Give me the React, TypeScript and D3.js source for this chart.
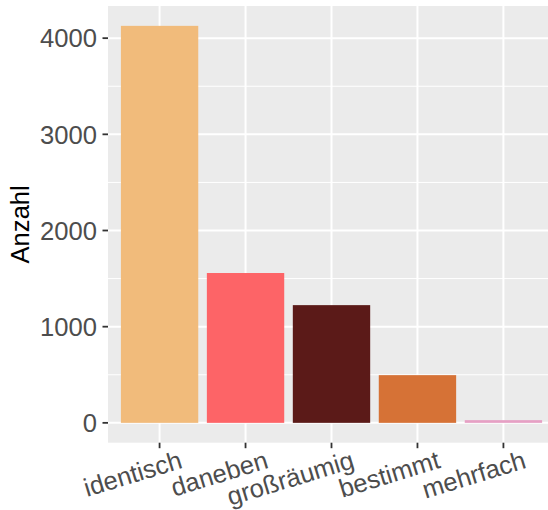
import React from "react";
import * as d3 from "d3";

const categories = ["identisch", "daneben", "großräumig", "bestimmt", "mehrfach"];
const counts = [4128, 1558, 1224, 496, 28];
const colors = ["#F1BB7B", "#FD6467", "#5B1A18", "#D67236", "#E6A0C4"];
const yTicks = [0, 1000, 2000, 3000, 4000];
const yMinor = [500, 1500, 2500, 3500];

const W = 548;
const H = 510;
const panel = { left: 108, top: 6, right: 555, bottom: 442.7 };
const font = "'Liberation Sans', Arial, sans-serif";

export default function App() {
  const maxV = d3.max(counts) as number;
  const pad = maxV * 0.05;
  const y = d3.scaleLinear().domain([-pad, maxV + pad]).range([panel.bottom, panel.top]);
  const n = categories.length;
  const unit = (panel.right - panel.left) / (n - 1 + 1.2);
  const x = d3
    .scaleLinear()
    .domain([0.4, n + 0.6])
    .range([panel.left, panel.right]);
  const barW = 0.9 * unit;

  return (
    <>
      <style>{`body{margin:0}`}</style>
      <svg width={W} height={H} style={{ display: "block" }} fontFamily={font}>
        <defs>
          <clipPath id="clip">
            <rect x={0} y={0} width={W} height={H} />
          </clipPath>
        </defs>
        <rect
          x={panel.left}
          y={panel.top}
          width={panel.right - panel.left}
          height={panel.bottom - panel.top}
          fill="#EBEBEB"
        />
        {yMinor.map((v) => (
          <line
            key={"mn" + v}
            x1={panel.left}
            x2={panel.right}
            y1={y(v)}
            y2={y(v)}
            stroke="#FFFFFF"
            strokeWidth={1}
          />
        ))}
        {yTicks.map((v) => (
          <line
            key={"mj" + v}
            x1={panel.left}
            x2={panel.right}
            y1={y(v)}
            y2={y(v)}
            stroke="#FFFFFF"
            strokeWidth={2}
          />
        ))}
        {categories.map((c, i) => (
          <line
            key={"vx" + c}
            x1={x(i + 1)}
            x2={x(i + 1)}
            y1={panel.top}
            y2={panel.bottom}
            stroke="#FFFFFF"
            strokeWidth={2}
          />
        ))}
        {categories.map((c, i) => (
          <rect
            key={"b" + c}
            x={x(i + 1) - barW / 2}
            width={barW}
            y={y(counts[i])}
            height={y(0) - y(counts[i])}
            fill={colors[i]}
          />
        ))}
        {yTicks.map((v) => (
          <g key={"yt" + v}>
            <line x1={panel.left - 5.5} x2={panel.left} y1={y(v)} y2={y(v)} stroke="#333333" strokeWidth={1.8} />
            <text
              x={panel.left - 11}
              y={y(v)}
              dy="0.36em"
              textAnchor="end"
              fontSize={25.6}
              fill="#4D4D4D"
            >
              {v}
            </text>
          </g>
        ))}
        {categories.map((c, i) => (
          <g key={"xt" + c}>
            <line
              x1={x(i + 1)}
              x2={x(i + 1)}
              y1={panel.bottom}
              y2={panel.bottom + 5.5}
              stroke="#333333"
              strokeWidth={1.8}
            />
            <text
              transform={`translate(${x(i + 1) + 24},${467.5}) rotate(-17)`}
              textAnchor="end"
              fontSize={25.6}
              fill="#4D4D4D"
            >
              {c}
            </text>
          </g>
        ))}
        <text
          transform={`translate(${29},${(panel.top + panel.bottom) / 2}) rotate(-90)`}
          textAnchor="middle"
          fontSize={25.6}
          fill="#000000"
        >
          Anzahl
        </text>
      </svg>
    </>
  );
}
